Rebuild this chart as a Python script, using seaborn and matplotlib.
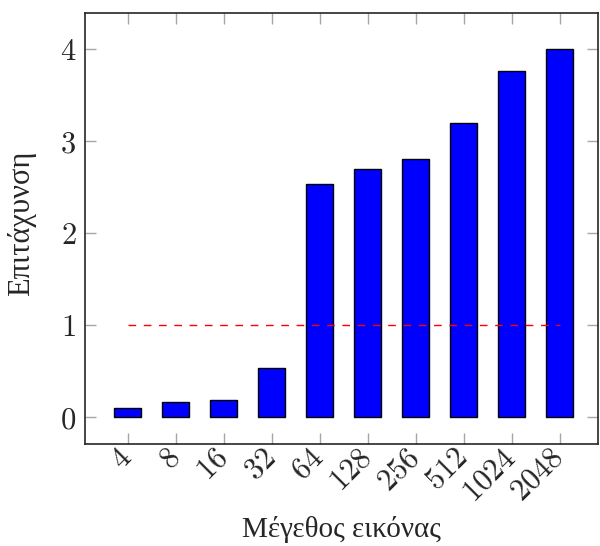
import matplotlib
matplotlib.use("Agg")
import matplotlib.pyplot as plt
import seaborn as sns
import pandas as pd

sizes = ["4", "8", "16", "32", "64", "128", "256", "512", "1024", "2048"]
speedup = [0.10, 0.16, 0.19, 0.53, 2.53, 2.70, 2.80, 3.20, 3.76, 4.00]
y_ticks = [0, 1, 2, 3, 4]
baseline = 1.0
xlabel = "Μέγεθος εικόνας"
ylabel = "Επιτάχυνση"

sns.set_theme(style="white")
plt.rcParams["mathtext.fontset"] = "cm"
plt.rcParams["font.family"] = ["Liberation Serif", "DejaVu Serif"]

df = pd.DataFrame({"size": sizes, "speedup": speedup})

fig = plt.figure(figsize=(6.0, 5.46), dpi=100)
ax = fig.add_axes([0.141, 0.187, 0.856, 0.789])

sns.barplot(data=df, x="size", y="speedup", order=sizes, color="#0000ff",
            saturation=1, width=0.57, edgecolor="black", linewidth=1.0, ax=ax)

ax.plot([0, len(sizes) - 1], [baseline, baseline], color="#ff0000",
        linestyle=(0, (5.5, 5.5)), linewidth=1.0)

ax.set_xlim(-0.9, 9.8)
ax.set_ylim(-0.29, 4.39)
ax.set_yticks(y_ticks)
ax.set_yticklabels([f"${v}$" for v in y_ticks], fontsize=22)
ax.set_xticks(range(len(sizes)))
ax.set_xticklabels([f"${s}$" for s in sizes], fontsize=22, rotation=45,
                   ha="right", va="center", rotation_mode="anchor")

ax.tick_params(axis="both", which="both", direction="in", length=8,
               width=1.0, color="0.65", top=True, right=True,
               bottom=True, left=True)
ax.tick_params(axis="x", pad=7)
ax.tick_params(axis="y", pad=6)
for sp in ax.spines.values():
    sp.set_visible(True)
    sp.set_color("0.15")
    sp.set_linewidth(1.2)

ax.set_xlabel(xlabel, fontsize=21)
ax.xaxis.set_label_coords(0.5, -0.198)
ax.xaxis.label.set_verticalalignment("center")
ax.set_ylabel(ylabel, fontsize=22)
ax.yaxis.set_label_coords(-0.122, 0.513)
ax.yaxis.label.set_verticalalignment("center")

fig.savefig("out.png", dpi=100)
